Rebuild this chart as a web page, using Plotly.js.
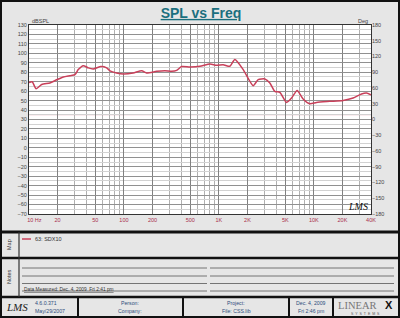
<!DOCTYPE html>
<html>
<head>
<meta charset="utf-8">
<script src="https://cdn.plot.ly/plotly-3.0.1.min.js"></script>
<style>
  html, body { margin: 0; padding: 0; background: #e6e6e6; }
  #chart { width: 400px; height: 318px; }
</style>
</head>
<body>
<div id="chart"></div>
<script>
// Measured SPL response of driver 63: SDX10
const freqHz = [10, 10.8, 11.9, 13.6, 16.6, 19.6, 23, 27, 30.5, 33, 37.3, 42.1, 47.5, 57.3, 65.8, 71.3,
  83.8, 98.4, 125, 154, 173, 221, 270, 318, 359, 405, 495, 631, 804, 946, 1110, 1305, 1473, 1803,
  2297, 2593, 3050, 3442, 3883, 4385, 5160, 5823, 6672, 7714, 9075, 10670, 14730, 20330, 25930,
  31760, 35860, 40000];
const splDb = [69, 70, 62.5, 67, 68.7, 72, 75, 76.4, 77.5, 82.8, 87, 84.6, 83.5, 86, 84.6, 81.5,
  79.3, 78.2, 79.3, 81.7, 79.3, 81, 81.7, 81, 82, 86, 85.6, 86.3, 88.8, 87.4, 88, 86.3, 93.4, 82.8,
  65.8, 72.2, 72.9, 68.7, 59.8, 58.7, 48.1, 52.7, 60.8, 51.7, 46.7, 48.1, 49.2, 50.2, 52.7,
  57, 58, 56];

// Axis ticks
const freqTicks = [10, 20, 50, 100, 200, 500, 1000, 2000, 5000, 10000, 20000, 40000];
const freqTickText = ['\u00a0\u00a0\u00a0\u00a0\u00a0\u00a0\u00a010 Hz', '20', '50', '100', '200', '500',
  '1K', '2K', '5K', '10K', '20K', '40K'];
const splTicks = [130, 120, 110, 100, 90, 80, 70, 60, 50, 40, 30, 20, 10, 0, -10, -20, -30, -40, -50, -60, -70];
const phaseTicks = [180, 150, 120, 90, 60, 30, 0, -30, -60, -90, -120, -150, -180];

const curveColor = '#c8405a';
const sans = 'Liberation Sans, Arial, sans-serif';
const serif = 'Liberation Serif, DejaVu Serif, serif';
const infoBlue = '#2e4d7c';

// plot area occupies pixels x 29..371, y 25..214 of the 400x318 page
const PL = 29, PW = 342, PT = 25, PH = 189, PB = PT + PH;
const px = x => (x - PL) / PW;
const py = y => (PB - y) / PH;

function note(x, y, text, o = {}) {
  return Object.assign({
    xref: 'paper', yref: 'paper', x: px(x), y: py(y), text: text, showarrow: false,
    xanchor: 'left', yanchor: 'middle',
    font: { family: sans, size: 5.5, color: '#333' }
  }, o);
}
function seg(x0, y0, x1, y1, color, width) {
  return { type: 'line', xref: 'paper', yref: 'paper', x0: px(x0), y0: py(y0), x1: px(x1), y1: py(y1),
    line: { color: color, width: width } };
}

const shapes = [
  // reference lines on the phase axis
  { type: 'line', xref: 'paper', x0: 0, x1: 1, yref: 'y', y0: 35, y1: 35, line: { color: '#f0b8c4', width: 1 }, layer: 'below' },
  { type: 'line', xref: 'paper', x0: 0, x1: 1, yref: 'y2', y0: 0, y1: 0, line: { color: '#e47890', width: 1 }, layer: 'below' },
  // outer frame and section dividers
  { type: 'rect', xref: 'paper', yref: 'paper', x0: px(1), y0: py(1), x1: px(399), y1: py(317), line: { color: '#111', width: 2 } },
  seg(0, 232, 400, 232, '#111', 3),
  seg(0, 258, 400, 258, '#111', 2.5),
  seg(0, 297, 400, 297, '#111', 2.5),
  seg(19, 232, 19, 297, '#333', 1.2),
  // bottom info bar cells
  seg(78, 297, 78, 317, '#111', 2),
  seg(183, 297, 183, 317, '#111', 2),
  seg(289, 297, 289, 317, '#111', 2),
  seg(333, 297, 333, 317, '#111', 2),
  // map legend swatch
  seg(22, 239, 31, 239, curveColor, 1.5)
];
// ruled lines of the notes box
[268, 276, 283.5, 291].forEach(y => {
  shapes.push(seg(22, y, 207, y, '#666', 0.9));
  shapes.push(seg(210, y, 394, y, '#666', 0.9));
});

const annotations = [
  note(30, 21, 'dBSPL', { font: { family: sans, size: 5.5, color: '#444' } }),
  note(370, 21, 'Deg', { xanchor: 'right', font: { family: sans, size: 5.5, color: '#444' } }),
  note(358, 206, 'LMS', { xanchor: 'center', font: { family: serif, size: 10, color: '#111', style: 'italic' } }),
  note(9, 245, 'Map', { xanchor: 'center', textangle: -90 }),
  note(9, 277, 'Notes', { xanchor: 'center', textangle: -90 }),
  note(33, 239, '63: SDX10'),
  note(22, 289, 'Data Measured: Dec. 4, 2009  Fri 2:41 pm',
    { font: { family: sans, size: 4.8, color: '#333', lineposition: 'under' } }),
  note(17, 307, 'LMS', { xanchor: 'center', font: { family: serif, size: 11, color: '#222', style: 'italic' } }),
  note(33, 303, '4.6.0.371', { font: { family: sans, size: 5.2, color: infoBlue } }),
  note(33, 311, 'May/29/2007', { font: { family: sans, size: 5.2, color: infoBlue } }),
  note(130, 303, 'Person:', { xanchor: 'center', font: { family: sans, size: 5.2, color: infoBlue } }),
  note(130, 311, 'Company:', { xanchor: 'center', font: { family: sans, size: 5.2, color: infoBlue } }),
  note(236, 303, 'Project:', { xanchor: 'center', font: { family: sans, size: 5.2, color: infoBlue } }),
  note(236, 311, 'File: CSS.lib', { xanchor: 'center', font: { family: sans, size: 5.2, color: infoBlue } }),
  note(311, 303, 'Dec. 4, 2009', { xanchor: 'center', font: { family: sans, size: 5.2, color: infoBlue } }),
  note(311, 311, 'Fri 2:46 pm', { xanchor: 'center', font: { family: sans, size: 5.2, color: infoBlue } }),
  note(336, 305, 'LINEAR', { font: { family: serif, size: 10.5, color: '#777' } }),
  note(389, 305, 'X', { xanchor: 'center', font: { family: sans, size: 11, color: '#111', weight: 'bold' } }),
  note(365, 314, 'S\u00a0\u00a0Y\u00a0\u00a0S\u00a0\u00a0T\u00a0\u00a0E\u00a0\u00a0M\u00a0\u00a0S',
    { xanchor: 'center', font: { family: sans, size: 3.5, color: '#555' } })
];

const traces = [
  { x: freqHz, y: splDb, type: 'scatter', mode: 'lines', name: '63: SDX10',
    line: { color: curveColor, width: 1.5, shape: 'spline', smoothing: 0.6 }, showlegend: false },
  { x: [], y: [], type: 'scatter', mode: 'lines', yaxis: 'y2', showlegend: false }
];

const layout = {
  width: 400, height: 318,
  margin: { l: PL, r: 400 - PL - PW, t: PT, b: 318 - PB, pad: 0 },
  paper_bgcolor: '#e6e6e6', plot_bgcolor: '#ffffff',
  showlegend: false, hovermode: false,
  title: {
    text: '<b>SPL vs Freq</b>', xref: 'container', x: 0.5025, xanchor: 'center',
    yref: 'container', y: 1 - 13 / 318, yanchor: 'middle',
    font: { family: sans, size: 14, color: '#1b6f7e', lineposition: 'under' }
  },
  xaxis: {
    type: 'log', range: [1, Math.log10(40000)],
    tickmode: 'array', tickvals: freqTicks, ticktext: freqTickText,
    ticks: '', tickfont: { family: sans, size: 5.5, color: '#a8304c' },
    showgrid: true, gridcolor: '#808080', gridwidth: 1,
    minor: { dtick: 'D1', showgrid: true, gridcolor: '#b0b0b0', gridwidth: 1, ticks: '' },
    showline: true, linecolor: '#333', linewidth: 1, mirror: true, zeroline: false
  },
  yaxis: {
    range: [-70, 130], tickmode: 'array', tickvals: splTicks,
    ticks: '', tickfont: { family: sans, size: 5.5, color: '#444' },
    showgrid: true, gridcolor: '#909090', gridwidth: 1,
    minor: { dtick: 5, showgrid: true, gridcolor: '#d2d2d2', gridwidth: 1, ticks: '' },
    showline: true, linecolor: '#333', linewidth: 1, mirror: true, zeroline: false
  },
  yaxis2: {
    overlaying: 'y', side: 'right', anchor: 'x', range: [-180, 180],
    tickmode: 'array', tickvals: phaseTicks, ticks: '',
    tickfont: { family: sans, size: 5.5, color: '#444' },
    showgrid: false, zeroline: false, showline: false
  },
  shapes: shapes,
  annotations: annotations
};

Plotly.newPlot('chart', traces, layout, { staticPlot: true, displayModeBar: false });
</script>
</body>
</html>
